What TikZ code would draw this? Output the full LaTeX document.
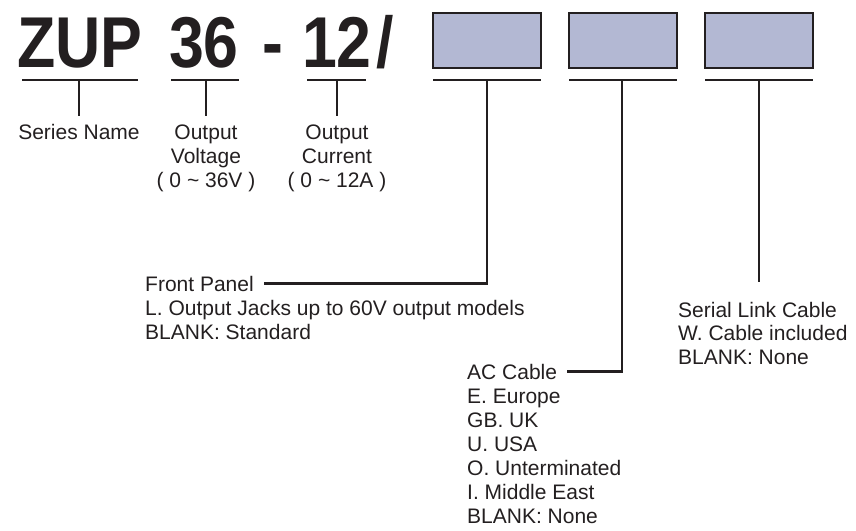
\documentclass[tikz,border=0pt]{standalone}
\usepackage{fontspec}
\setmainfont{Liberation Sans}
\definecolor{ink}{HTML}{231F20}
\definecolor{slotfill}{HTML}{B3B8D3}
\newcommand\zuptitle[1]{\scalebox{0.87}[1]{#1}}
\newcommand\optlines[1]{\begin{tabular}[t]{@{}l@{}}#1\end{tabular}}
\begin{document}
\begin{tikzpicture}[x=1pt,y=-1pt,
  titletext/.style={font=\fontsize{72}{72}\selectfont\bfseries, text=ink, inner sep=0pt, anchor=base},
  slot/.style={draw=ink, line width=2pt, fill=slotfill, minimum width=108pt, minimum height=55pt, inner sep=0pt},
  uline/.style={draw=ink, line width=2.6pt},
  stem/.style={draw=ink, line width=2.2pt},
  lbl/.style={font=\fontsize{21}{24}\selectfont, text=ink, inner sep=0pt}]
\useasboundingbox (0,0) rectangle (856,530);

% title
\node[titletext] (tzup) at (80,67) {\zuptitle{ZUP}};
\node[titletext] (t36) at (204,67) {\zuptitle{36}};
\node[titletext] (tdash) at (273,67) {\zuptitle{-}};
\node[titletext] (t12) at (337,67) {\zuptitle{12}};
\node[titletext] (tslash) at (385,67) {\zuptitle{/}};

% option slots
\node[slot] (b1) at (487,40.5) {};
\node[slot] (b2) at (623,40.5) {};
\node[slot] (b3) at (759,40.5) {};

% underlines
\draw[uline] (22,80) -- (138,80);
\draw[uline] (171,80) -- (239,80);
\draw[uline] (307,80) -- (366,80);
\draw[uline] (433,80) -- (541,80);
\draw[uline] (569,80) -- (677,80);
\draw[uline] (705,80) -- (813,80);

\coordinate (u1) at (79,80);
\coordinate (u2) at (206,80);
\coordinate (u3) at (337,80);
\coordinate (u4) at (487,80);
\coordinate (u5) at (622,80);
\coordinate (u6) at (759,80);

% upper labels
\node[lbl, anchor=base] (series) at (79,139) {Series Name};
\node[lbl, anchor=base] (volt) at (206,139) {\begin{tabular}[t]{@{}c@{}}Output\\Voltage\\( 0 \textasciitilde{} 36V )\end{tabular}};
\node[lbl, anchor=base] (curr) at (337,139) {\begin{tabular}[t]{@{}c@{}}Output\\Current\\( 0 \textasciitilde{} 12A )\end{tabular}};

\coordinate (s1) at (79,116);
\coordinate (s2) at (206,116);
\coordinate (s3) at (337,116);
\draw[stem] (u1) -- (s1);
\draw[stem] (u2) -- (s2);
\draw[stem] (u3) -- (s3);

% front panel
\node[lbl, anchor=base west] (fp) at (145,291) {Front Panel};
\node[lbl, anchor=base west] (fpo) at (145,315) {\optlines{L. Output Jacks up to 60V output models\\BLANK: Standard}};
\draw[stem] (u4) |- ([xshift=10pt]fp.east);

% AC cable
\node[lbl, anchor=base west] (ac) at (467,379) {AC Cable};
\node[lbl, anchor=base west] (aco) at (467,403) {\optlines{E. Europe\\GB. UK\\U. USA\\O. Unterminated\\I. Middle East\\BLANK: None}};
\draw[stem] (u5) |- ([xshift=10pt]ac.east);

% serial link
\node[lbl, anchor=base west] (sl) at (678,317) {Serial Link Cable};
\node[lbl, anchor=base west] (slo) at (678,340) {\optlines{W. Cable included\\BLANK: None}};
\coordinate (s6) at (759,282);
\draw[stem] (u6) -- (s6);
\end{tikzpicture}
\end{document}
